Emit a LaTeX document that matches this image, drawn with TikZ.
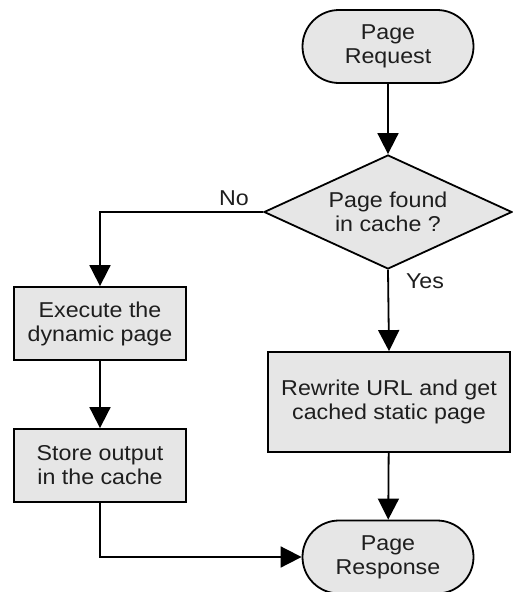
\documentclass[tikz,border=0pt]{standalone}
\usepackage{fontspec}
\setmainfont{Liberation Sans}[FakeStretch=1.08]
\usetikzlibrary{shapes.geometric,shapes.misc,arrows.meta}
\definecolor{boxfill}{HTML}{E6E6E6}
\definecolor{txt}{HTML}{1E1E1E}
\tikzset{
  base/.style={draw=black, line width=1.8pt, fill=boxfill, text=txt, inner sep=0pt, align=center,
    font=\fontsize{21.5}{24}\selectfont},
  stadium/.style={base, rounded rectangle, minimum width=171pt, minimum height=73pt},
  procbox/.style={base, rectangle, minimum height=73pt},
  decision/.style={base, diamond, aspect=2.18, minimum width=248pt, minimum height=114pt},
  conn/.style={line width=1.8pt, -{Triangle[length=21pt,width=21pt]}},
  lbl/.style={text=txt, inner sep=0pt, font=\fontsize{21.5}{24}\selectfont}
}
\begin{document}
\begin{tikzpicture}[x=1pt,y=-1pt]
\useasboundingbox (0,0) rectangle (513,592);
\node[stadium] (req) at (388,46.5) {Page\\Request};
\node[decision] (dec) at (388,212) {Page found\\in cache ?};
\node[procbox, minimum width=172pt] (exec) at (100,323.5) {Execute the\\dynamic page};
\node[procbox, minimum width=172pt] (store) at (100,465.5) {Store output\\in the cache};
\node[procbox, minimum width=242pt, minimum height=100pt] (rew) at (389,402) {Rewrite URL and get\\cached static page};
\node[stadium] (resp) at (388,557) {Page\\Response};
\node[lbl] (no) at (234,198) {No};
\node[lbl] (yes) at (425,281) {Yes};
\draw[conn] (req) -- (dec);
\draw[conn] (dec.west) -| (exec.north);
\draw[conn] (dec.south) -- (rew.north);
\draw[conn] (exec) -- (store);
\draw[conn] (rew) -- (resp);
\draw[conn] (store.south) |- (resp.west);
\end{tikzpicture}
\end{document}
